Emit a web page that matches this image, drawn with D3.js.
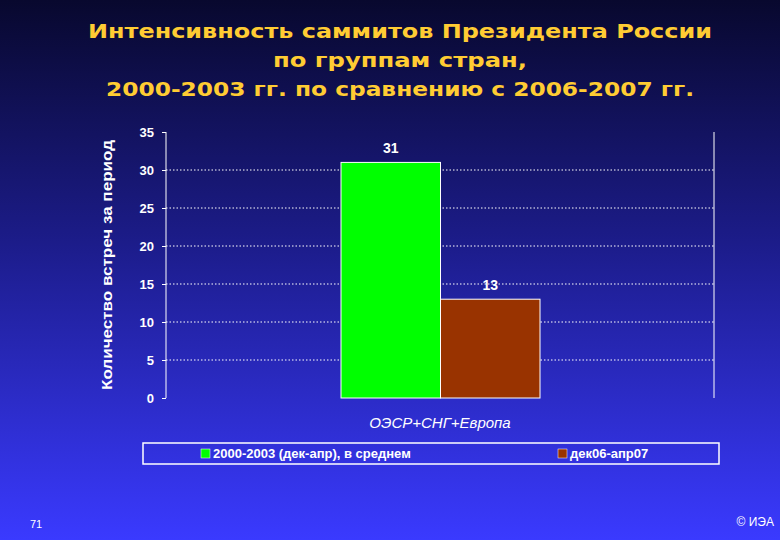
<!DOCTYPE html>
<html><head><meta charset="utf-8">
<script src="https://cdn.jsdelivr.net/npm/d3@7"></script>
<style>body{margin:0}svg{display:block}</style></head>
<body><svg id="c" width="780" height="540"></svg>
<script>
const category = "ОЭСР+СНГ+Европа";
const seriesNames = ["2000-2003 (дек-апр), в среднем", "дек06-апр07"];
const seriesValues = [31, 13];
const seriesColors = ["#00ff00", "#993300"];
const yTicks = [0,5,10,15,20,25,30,35];
const titleLines = ["Интенсивность саммитов Президента России","по группам стран,","2000-2003 гг. по сравнению с 2006-2007 гг."];
const titleWidths = [624, 254, 588];

const svg = d3.select("#c");
const defs = svg.append("defs");
const g = defs.append("linearGradient").attr("id","bg").attr("x1",0).attr("y1",0).attr("x2",0).attr("y2",1);
g.append("stop").attr("offset","0%").attr("stop-color","#08082e");
g.append("stop").attr("offset","45%").attr("stop-color","#1c1c8a");
g.append("stop").attr("offset","100%").attr("stop-color","#3a3aff");
svg.append("rect").attr("width",780).attr("height",540).attr("fill","url(#bg)");

svg.selectAll(".t").data(titleLines).enter().append("text")
 .attr("x",400).attr("y",(d,i)=>38+i*29).attr("text-anchor","middle")
 .attr("font-family","DejaVu Sans, Liberation Sans").attr("font-weight","bold").attr("font-size",20)
 .attr("textLength",(d,i)=>titleWidths[i]).attr("lengthAdjust","spacingAndGlyphs")
 .attr("fill","#ffcc33").text(d=>d);

const L=166,R=714,T=132,B=398;
const y=d3.scaleLinear().domain([0,35]).range([B,T]);
const x=d3.scaleBand().domain(seriesNames).range([341,540]).padding(0);

svg.append("g").selectAll("line").data(yTicks.filter(v=>v>0&&v<35)).enter().append("line")
 .attr("x1",L).attr("x2",R).attr("y1",d=>y(d)).attr("y2",d=>y(d))
 .attr("stroke","#fff").attr("stroke-dasharray","1.5,2").attr("stroke-width",1);
svg.append("line").attr("x1",L).attr("x2",L).attr("y1",T).attr("y2",B).attr("stroke","#fff");
svg.append("line").attr("x1",R).attr("x2",R).attr("y1",T).attr("y2",B).attr("stroke","#fff");

const ax=svg.append("g").attr("transform",`translate(${L},0)`).call(d3.axisLeft(y).tickValues(yTicks).tickSize(4).tickPadding(8));
ax.select(".domain").remove();
ax.selectAll("line").attr("stroke","#fff");
ax.selectAll("text").attr("fill","#fff").attr("font-family","Liberation Sans, Arial").attr("font-weight","bold").attr("font-size",13);

svg.selectAll(".b").data(seriesValues).enter().append("rect")
 .attr("x",(d,i)=>x(seriesNames[i])).attr("width",x.bandwidth()).attr("y",d=>y(d)).attr("height",d=>B-y(d))
 .attr("fill",(d,i)=>seriesColors[i]).attr("stroke","#fff").attr("stroke-width",1);
svg.selectAll(".lb").data(seriesValues).enter().append("text")
 .attr("x",(d,i)=>x(seriesNames[i])+x.bandwidth()/2).attr("y",d=>y(d)-9).attr("text-anchor","middle")
 .attr("fill","#fff").attr("font-family","Liberation Sans, Arial").attr("font-weight","bold").attr("font-size",14).text(d=>d);

svg.append("text").attr("x",440).attr("y",428).attr("text-anchor","middle").attr("fill","#fff")
 .attr("font-family","Liberation Sans, Arial").attr("font-style","italic").attr("font-size",15).text(category);

svg.append("text").attr("transform","translate(112,265) rotate(-90)").attr("text-anchor","middle")
 .attr("fill","#fff").attr("font-family","Liberation Sans, Arial").attr("font-weight","bold").attr("font-size",14)
 .attr("textLength",250).attr("lengthAdjust","spacingAndGlyphs").text("Количество встреч за период");

svg.append("rect").attr("x",143).attr("y",443).attr("width",576).attr("height",21).attr("fill","none").attr("stroke","#fff").attr("stroke-width",1.5);
const lx=[201,558];
seriesNames.forEach((n,i)=>{
 svg.append("rect").attr("x",lx[i]).attr("y",449).attr("width",9).attr("height",9).attr("fill",seriesColors[i]).attr("stroke","#fff").attr("stroke-width",0.5);
 svg.append("text").attr("x",lx[i]+12).attr("y",458).attr("fill","#fff").attr("font-family","Liberation Sans, Arial").attr("font-weight","bold").attr("font-size",13).text(n);
});

svg.append("text").attr("x",30).attr("y",528).attr("fill","#fff").attr("font-family","Liberation Sans, Arial").attr("font-size",11).text("71");
svg.append("text").attr("x",774).attr("y",526).attr("text-anchor","end").attr("fill","#fff").attr("font-family","Liberation Sans, Arial").attr("font-size",12).text("© ИЭА");
</script></body></html>
